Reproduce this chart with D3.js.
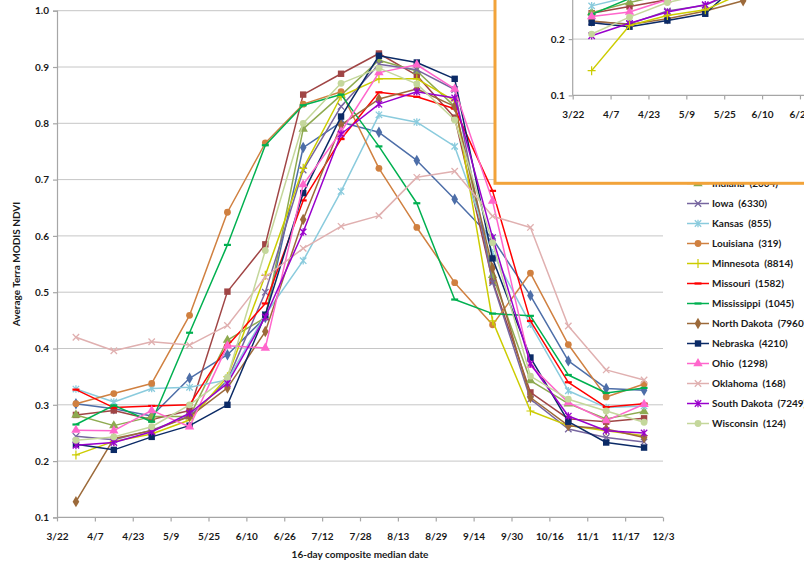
<!DOCTYPE html>
<html><head><meta charset="utf-8">
<script src="https://cdn.jsdelivr.net/npm/d3@7"></script>
<style>
body{margin:0;background:#fff;}
text{font-family:Lato,"Open Sans",sans-serif;font-weight:bold;fill:#1a1a1a;}
.leg{white-space:pre;}
</style>
</head><body>
<svg id="chart" width="804" height="563"></svg>
<script>
// ---------- DATA ----------
const tickLabels = ["3/22","4/7","4/23","5/9","5/25","6/10","6/26","7/12","7/28","8/13","8/29","9/14","9/30","10/16","11/1","11/17","12/3"];
const pointDates = ["3/30","4/15","5/1","5/17","6/2","6/18","7/4","7/20","8/5","8/21","9/6","9/22","10/8","10/24","11/9","11/25"];
const yTicks = [0.1,0.2,0.3,0.4,0.5,0.6,0.7,0.8,0.9,1.0];

const seriesNames = ["Arkansas","Illinois","Indiana","Iowa","Kansas","Louisiana","Minnesota","Missouri","Mississippi","North Dakota","Nebraska","Ohio","Oklahoma","South Dakota","Wisconsin"];
const seriesCounts = [null,null,2004,6330,855,319,8814,1582,1045,7960,4210,1298,168,7249,124];

const arkansas    = [0.302,0.293,0.280,0.347,0.389,0.455,0.757,0.802,0.784,0.734,0.665,0.595,0.494,0.378,0.329,0.326];
const illinois    = [0.282,0.290,0.274,0.290,0.501,0.585,0.851,0.888,0.924,0.885,0.810,0.520,0.322,0.275,0.270,0.276];
const indiana     = [0.282,0.263,0.279,0.279,0.415,0.455,0.790,0.850,0.912,0.893,0.830,0.530,0.343,0.302,0.275,0.288];
const iowa        = [0.244,0.238,0.255,0.280,0.343,0.500,0.717,0.830,0.905,0.895,0.860,0.517,0.310,0.257,0.242,0.234];
const kansas      = [0.328,0.305,0.329,0.331,0.344,0.460,0.556,0.679,0.815,0.802,0.759,0.570,0.443,0.325,0.295,0.298];
const louisiana   = [0.302,0.320,0.338,0.459,0.642,0.765,0.834,0.856,0.720,0.615,0.517,0.442,0.534,0.407,0.314,0.337];
const minnesota   = [0.211,0.235,0.248,0.273,0.350,0.530,0.720,0.848,0.879,0.879,0.840,0.449,0.289,0.263,0.254,0.245];
const missouri    = [0.327,0.295,0.298,0.300,0.405,0.480,0.663,0.772,0.855,0.847,0.826,0.680,0.449,0.340,0.296,0.302];
const mississippi = [0.265,0.299,0.270,0.428,0.584,0.761,0.832,0.851,0.759,0.658,0.487,0.462,0.458,0.353,0.321,0.330];
const northDakota = [0.128,0.240,0.254,0.279,0.330,0.430,0.629,0.797,0.843,0.861,0.830,0.543,0.313,0.263,0.257,0.242];
const nebraska    = [0.230,0.220,0.243,0.263,0.300,0.460,0.676,0.812,0.920,0.908,0.879,0.560,0.384,0.270,0.233,0.224];
const ohio        = [0.255,0.254,0.290,0.261,0.405,0.401,0.691,0.785,0.890,0.904,0.861,0.662,0.370,0.304,0.272,0.301];
const oklahoma    = [0.420,0.396,0.412,0.406,0.441,0.527,0.578,0.617,0.636,0.704,0.715,0.635,0.615,0.440,0.362,0.344];
const southDakota = [0.228,0.233,0.252,0.285,0.338,0.456,0.607,0.781,0.834,0.856,0.845,0.597,0.373,0.280,0.254,0.250];
const wisconsin   = [0.237,0.243,0.261,0.300,0.349,0.574,0.800,0.871,0.898,0.870,0.806,0.588,0.351,0.310,0.289,0.269];

const seriesValues = [arkansas,illinois,indiana,iowa,kansas,louisiana,minnesota,missouri,mississippi,northDakota,nebraska,ohio,oklahoma,southDakota,wisconsin];

// Inset (second season, early points only; upper part is cut off)
const insetDates = ["3/30","4/15","5/1","5/17","6/2","6/18"];
const insetNames = ["Illinois","Indiana","Iowa","Kansas","Mississippi","North Dakota","Nebraska","Ohio","South Dakota","Wisconsin","Minnesota"];
const insetIllinois    = [0.246,0.258,0.270,0.290,0.360,0.500];
const insetIndiana     = [0.247,0.265,0.280,0.290,0.350,0.500];
const insetIowa        = [0.231,0.227,0.250,0.260,0.290,0.400];
const insetKansas      = [0.259,0.275,0.290,0.300,0.330,0.450];
const insetMississippi = [0.244,0.272,0.300,0.340,0.400,0.550];
const insetNorthDakota = [0.232,0.226,0.236,0.250,0.268,0.330];
const insetNebraska    = [0.229,0.222,0.233,0.245,0.307,0.420];
const insetOhio        = [0.240,0.248,0.270,0.290,0.330,0.450];
const insetSouthDakota = [0.206,0.228,0.248,0.261,0.290,0.400];
const insetWisconsin   = [0.209,0.239,0.265,0.280,0.320,0.450];
const insetMinnesota   = [0.144,0.224,0.242,0.252,0.282,0.380];
const insetValues = [insetIllinois,insetIndiana,insetIowa,insetKansas,insetMississippi,insetNorthDakota,insetNebraska,insetOhio,insetSouthDakota,insetWisconsin,insetMinnesota];

// ---------- STYLE ----------
const styles = {
  "Arkansas":    {color:"#4D6EA8", marker:"diamond"},
  "Illinois":    {color:"#A04545", marker:"square"},
  "Indiana":     {color:"#8EAA50", marker:"triangle"},
  "Iowa":        {color:"#76659F", marker:"x"},
  "Kansas":      {color:"#8ACBDD", marker:"star"},
  "Louisiana":   {color:"#D08040", marker:"circle"},
  "Minnesota":   {color:"#CCCC00", marker:"plus"},
  "Missouri":    {color:"#FF0000", marker:"dash"},
  "Mississippi": {color:"#00B050", marker:"dash"},
  "North Dakota":{color:"#9C6A3A", marker:"diamond"},
  "Nebraska":    {color:"#0B2A66", marker:"square"},
  "Ohio":        {color:"#FF66CC", marker:"triangle"},
  "Oklahoma":    {color:"#E0B0B0", marker:"x"},
  "South Dakota":{color:"#9900CC", marker:"star"},
  "Wisconsin":   {color:"#C4D79B", marker:"circle"}
};

const parse = s => d3.utcParse("%Y/%m/%d")("2009/" + s);
const svg = d3.select("#chart");

function drawMarker(g, type, color, x, y){
  const m = g.append("g").attr("transform",`translate(${x},${y})`);
  if(type==="square") m.append("rect").attr("x",-3.2).attr("y",-3.2).attr("width",6.4).attr("height",6.4).attr("fill",color);
  else if(type==="circle") m.append("circle").attr("r",3.4).attr("fill",color);
  else if(type==="diamond") m.append("path").attr("d",d3.symbol(d3.symbolDiamond,38)()).attr("fill",color);
  else if(type==="triangle") m.append("path").attr("d",d3.symbol(d3.symbolTriangle,38)()).attr("fill",color);
  else if(type==="x") m.append("path").attr("d","M-3.2,-3.2L3.2,3.2M-3.2,3.2L3.2,-3.2").attr("stroke",color).attr("stroke-width",1.3).attr("fill","none");
  else if(type==="star") m.append("path").attr("d","M-3.2,-3.2L3.2,3.2M-3.2,3.2L3.2,-3.2M0,-3.8L0,3.8").attr("stroke",color).attr("stroke-width",1.3).attr("fill","none");
  else if(type==="plus") m.append("path").attr("d","M-4,0L4,0M0,-4.5L0,4.5").attr("stroke",color).attr("stroke-width",1.2).attr("fill","none");
  else if(type==="dash") m.append("path").attr("d","M-3.5,0L3.5,0").attr("stroke",color).attr("stroke-width",2.2).attr("fill","none");
}

function drawPanel(g, x, y, names, values, dates, clipId){
  const line = d3.line().x((d,i)=>x(parse(dates[i]))).y(d=>y(d));
  const body = clipId ? g.append("g").attr("clip-path",`url(#${clipId})`) : g.append("g");
  names.forEach((n,k)=>{
    const st = styles[n];
    const sg = body.append("g");
    sg.append("path").datum(values[k]).attr("d",line).attr("fill","none")
      .attr("stroke",st.color).attr("stroke-width",1.5).attr("stroke-linejoin","round");
    values[k].forEach((v,i)=>drawMarker(sg, st.marker, st.color, x(parse(dates[i])), y(v)));
  });
}

// ---------- MAIN CHART ----------
const x = d3.scaleUtc().domain([parse("3/22"), parse("12/3")]).range([57, 663]);
const y = d3.scaleLinear().domain([0.1, 1.0]).range([517.4, 10.7]);

svg.append("g").selectAll("line").data(yTicks.slice(1)).join("line")
  .attr("x1",57).attr("x2",663).attr("y1",d=>y(d)).attr("y2",d=>y(d))
  .attr("stroke","#C6C6C6").attr("stroke-width",1);

const tickDates = tickLabels.map(parse);
const xAxis = svg.append("g").attr("transform",`translate(0,${y(0.1)})`)
  .call(d3.axisBottom(x).tickValues(tickDates).tickFormat((d,i)=>tickLabels[i]).tickSize(4).tickPadding(12));
const yAxis = svg.append("g").attr("transform",`translate(57,0)`)
  .call(d3.axisLeft(y).tickValues(yTicks).tickFormat(d3.format(".1f")).tickSize(4).tickPadding(4));
[xAxis,yAxis].forEach(a=>{
  a.selectAll("path,line").attr("stroke","#A6A6A6").attr("stroke-width",1.2);
  a.selectAll("text").style("font-size","10px").style("font-family","Lato, 'Open Sans', sans-serif").style("font-weight","bold").attr("fill","#1a1a1a");
});
xAxis.select(".domain").attr("d","M57,0H663");

svg.append("text").attr("x",360).attr("y",558).attr("text-anchor","middle").style("font-size","10px").text("16-day composite median date");
svg.append("text").attr("transform","translate(20,264) rotate(-90)").attr("text-anchor","middle").style("font-size","10px").text("Average Terra MODIS NDVI");

drawPanel(svg.append("g"), x, y, seriesNames, seriesValues, pointDates, null);

// ---------- LEGEND ----------
const legend = svg.append("g");
seriesNames.forEach((n,k)=>{
  if(seriesCounts[k]===null) return;
  const row = k - 2;
  const ly = 183.5 + row*20;
  const st = styles[n];
  legend.append("line").attr("x1",687).attr("x2",709).attr("y1",ly).attr("y2",ly).attr("stroke",st.color).attr("stroke-width",1.5);
  drawMarker(legend, st.marker, st.color, 698, ly);
  legend.append("text").attr("class","leg").attr("x",712).attr("y",ly).attr("dy","0.35em").style("font-size","10px")
    .text(`${n}  (${seriesCounts[k]})`);
});

// ---------- INSET ----------
const inset = svg.append("g");
inset.append("rect").attr("x",495).attr("y",-10).attr("width",330).attr("height",193.3)
  .attr("fill","#fff").attr("stroke","#F2A33A").attr("stroke-width",3);
const xi = d3.scaleUtc().domain([parse("3/22"), parse("12/3")]).range([572.7, 1178.7]);
const yi = d3.scaleLinear().domain([0.1, 1.0]).range([95.4, -411.3]);
const defs = svg.append("defs");
defs.append("clipPath").attr("id","insetClip").append("rect").attr("x",566).attr("y",0).attr("width",238).attr("height",100);
inset.append("line").attr("x1",572.7).attr("x2",804).attr("y1",yi(0.2)).attr("y2",yi(0.2)).attr("stroke","#C6C6C6");
const xiAxis = inset.append("g").attr("transform",`translate(0,${yi(0.1)})`)
  .call(d3.axisBottom(xi).tickValues(tickDates.slice(0,7)).tickFormat((d,i)=>tickLabels[i]).tickSize(4).tickPadding(12));
const yiAxis = inset.append("g").attr("transform",`translate(572.7,0)`)
  .call(d3.axisLeft(yi).tickValues([0.1,0.2]).tickFormat(d3.format(".1f")).tickSize(4).tickPadding(4));
[xiAxis,yiAxis].forEach(a=>{
  a.selectAll("path,line").attr("stroke","#A6A6A6").attr("stroke-width",1.2);
  a.selectAll("text").style("font-size","10px").style("font-family","Lato, 'Open Sans', sans-serif").style("font-weight","bold").attr("fill","#1a1a1a");
});
xiAxis.select(".domain").attr("d","M572.7,0H804");
yiAxis.select(".domain").attr("d","M0,-20V"+(yi(0.1)));
drawPanel(inset.append("g"), xi, yi, insetNames, insetValues, insetDates, "insetClip");
</script>
</body></html>
